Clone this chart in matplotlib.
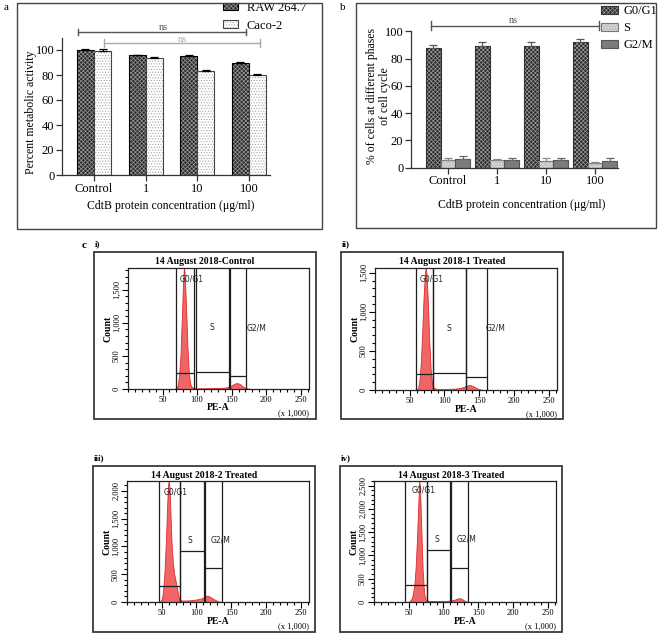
import matplotlib.pyplot as plt
import numpy as np
from matplotlib.patches import Patch, Rectangle
from matplotlib.ticker import FuncFormatter, MultipleLocator

plt.rcParams['font.family'] = ['Liberation Serif', 'DejaVu Serif']
plt.rcParams['hatch.linewidth'] = 0.5

# ---------------- data: panel a (metabolic activity) ----------------
conc_labels = ['Control', '1', '10', '100']
raw_mean = [100.0, 96.0, 95.2, 89.9]
raw_err = [0.5, 0.3, 0.4, 0.5]
caco_mean = [99.5, 93.9, 83.5, 79.7]
caco_err = [1.2, 0.8, 0.8, 0.9]

# ---------------- data: panel b (cell cycle phases) ----------------
g1_mean = [88.0, 89.5, 89.5, 92.0]
g1_err = [2.3, 2.4, 2.3, 2.5]
s_mean = [5.6, 5.6, 4.9, 3.2]
s_err = [1.2, 0.5, 1.9, 1.2]
g2_mean = [6.1, 5.6, 5.6, 4.9]
g2_err = [2.4, 1.7, 1.2, 1.9]

# ---------------- data: panel c (PE-A histograms, x in thousands) ----------------
hx_i = [66, 70, 72, 74, 76, 78, 80, 81, 82, 84, 86, 88, 90, 92, 95, 100, 110, 120,
        130, 140, 145, 150, 154, 158, 162, 166, 170, 175, 180]
hc_i = [0, 10, 60, 200, 520, 1100, 1700, 1830, 1750, 1250, 650, 250, 80, 30, 15, 10,
        12, 12, 15, 20, 30, 55, 80, 90, 75, 40, 15, 5, 0]

hx_ii = [58, 62, 64, 66, 68, 70, 72, 73, 74, 76, 78, 80, 82, 84, 88, 95, 105, 115,
         122, 128, 132, 135, 138, 142, 146, 150, 155]
hc_ii = [0, 20, 120, 350, 750, 1200, 1500, 1560, 1500, 1150, 650, 280, 90, 30, 15,
         12, 14, 18, 25, 40, 55, 65, 60, 45, 25, 10, 0]

hx_iii = [46, 50, 52, 54, 56, 58, 59, 60, 61, 62, 64, 66, 68, 70, 72, 74, 76, 80,
          90, 100, 106, 110, 113, 116, 120, 125, 130, 135]
hc_iii = [0, 40, 200, 550, 1100, 1800, 2100, 2180, 2100, 1800, 1100, 700, 500, 380,
          250, 100, 40, 25, 30, 45, 60, 80, 110, 115, 90, 50, 20, 0]

hx_iv = [48, 52, 55, 58, 60, 62, 64, 65, 66, 67, 68, 70, 72, 74, 78, 85, 95, 105,
         112, 117, 120, 123, 126, 130, 135]
hc_iv = [0, 20, 100, 350, 750, 1400, 2200, 2600, 2500, 2100, 1600, 700, 200, 60, 25,
         20, 20, 25, 35, 55, 75, 80, 70, 30, 0]

gate_names = ['G0/G1', 'S', 'G2/M']
# (left, right, marker level) for each gate
gates_i = [(69, 96, 242), (98.5, 146.5, 258), (148, 170.5, 197)]
gates_ii = [(59, 83, 205), (83.5, 131.5, 218), (131.5, 161, 170)]
gates_iii = [(45.5, 75.6, 294), (76.5, 110.4, 925), (111.9, 136.5, 607)]
gates_iv = [(45, 75.6, 370), (76.6, 109.5, 1108), (111, 135.6, 724)]

c_titles = ['14 August 2018-Control', '14 August 2018-1 Treated',
            '14 August 2018-2 Treated', '14 August 2018-3 Treated']
c_tags = ['i)', 'ii)', 'iii)', 'iv)']
c_ymax = [1830, 1560, 2180, 2600]
c_yticks = [[0, 500, 1000, 1500], [0, 500, 1000, 1500],
            [0, 500, 1000, 1500, 2000], [0, 500, 1000, 1500, 2000, 2500]]
c_xticks = [50, 100, 150, 200, 250]

W, H = 658, 633

def px_box(x0, y0, x1, y1):
  return [x0/W, 1 - y1/H, (x1 - x0)/W, (y1 - y0)/H]

def fx(x):
  return x/W

def fy(y):
  return 1 - y/H

def frame(fig, x0, y0, x1, y1, lw=1.0, color='#444444'):
  fig.add_artist(Rectangle((fx(x0), fy(y1)), (x1 - x0)/W, (y1 - y0)/H,
                           transform=fig.transFigure, fill=False,
                           edgecolor=color, linewidth=lw))

def hbar(ax, x, h, w, face, hatch, hcolor, edge):
  """ bar with its own hatch colour, then outline on top """
  ax.bar(x, h, w, color=face, hatch=hatch, edgecolor=hcolor, linewidth=0)
  ax.bar(x, h, w, fill=False, edgecolor=edge, linewidth=0.8)

def handle(face, hatch, hcolor, edge):
  return (Patch(facecolor=face, hatch=hatch, edgecolor=hcolor, linewidth=0),
          Patch(fill=False, edgecolor=edge, linewidth=0.8))

def bracket(ax, x0, x1, y, dy, color, label, ly):
  ax.plot([x0, x1], [y, y], color=color, lw=1.0, clip_on=False)
  ax.plot([x0, x0], [y - dy, y + dy], color=color, lw=1.0, clip_on=False)
  ax.plot([x1, x1], [y - dy, y + dy], color=color, lw=1.0, clip_on=False)
  ax.text(label, ly, 'ns', ha='center', va='bottom', fontsize=7.5, color=color,
          clip_on=False)

def style_bar_axes(ax):
  for s in ['top', 'right']:
    ax.spines[s].set_visible(False)
  for s in ['left', 'bottom']:
    ax.spines[s].set_color('#333333')
    ax.spines[s].set_linewidth(0.9)
  ax.tick_params(length=4, width=0.9, color='#333333', labelsize=9, pad=1.5)

raw_style = dict(face='#2a2a2a', hatch='xxxxxxxx', hcolor='#9a9a9a', edge='black')
caco_style = dict(face='white', hatch='......', hcolor='#a5a5a5', edge='#444444')
g1_style = dict(face='#2a2a2a', hatch='xxxxxxxx', hcolor='#9a9a9a', edge='#333333')
s_style = dict(face='#c4c4c4', hatch='......', hcolor='#f0f0f0', edge='#777777')
g2_style = dict(face='#7c7c7c', hatch='', hcolor='#7c7c7c', edge='#555555')

fig = plt.figure(figsize=(W/100, H/100), dpi=100)

#--------------------------------------------------------------------------------
# panel a
frame(fig, 17, 3, 322, 229)
fig.text(fx(6), fy(7), 'a', fontsize=8, ha='center', va='center')

ax = fig.add_axes(px_box(62, 37.5, 270, 175))
idx = np.arange(len(conc_labels))
w = 0.33
hbar(ax, idx - w/2, raw_mean, w, **raw_style)
hbar(ax, idx + w/2, caco_mean, w, **caco_style)
ax.errorbar(idx - w/2, raw_mean, yerr=[np.zeros(len(idx)), raw_err], fmt='none',
            ecolor='black', elinewidth=0.8, capsize=3, capthick=0.9)
ax.errorbar(idx + w/2, caco_mean, yerr=[np.zeros(len(idx)), caco_err], fmt='none',
            ecolor='black', elinewidth=0.8, capsize=3, capthick=0.9)
ax.set_xlim(-0.62, 3.41)
ax.set_ylim(0, 110)
ax.set_yticks(range(0, 101, 20))
ax.set_xticks(idx)
ax.set_xticklabels(conc_labels)
style_bar_axes(ax)

bracket(ax, -0.31, 2.94, 114.4, 2.6, '#555555', 1.34, 114.6)
bracket(ax, 0.19, 3.21, 105.6, 3.2, '#aaaaaa', 1.72, 104.8)

ax.legend(handles=[handle(**raw_style), handle(**caco_style)],
          labels=['RAW 264.7', 'Caco-2'], loc='upper left',
          bbox_to_anchor=(fx(223), fy(2)), bbox_transform=fig.transFigure,
          frameon=False, fontsize=9, handlelength=1.2, handleheight=0.55,
          handletextpad=0.7, labelspacing=0.45, borderpad=0, borderaxespad=0)

fig.text(fx(31), fy(112), 'Percent metabolic activity', rotation=90,
         ha='center', va='center', fontsize=8.5)
fig.text(fx(171), fy(206), 'CdtB protein concentration (\u03bcg/ml)',
         ha='center', va='center', fontsize=8.5)

#--------------------------------------------------------------------------------
# panel b
frame(fig, 356, 3, 656, 228)
fig.text(fx(343), fy(7), 'b', fontsize=8, ha='center', va='center')

ax = fig.add_axes(px_box(411, 30.6, 618, 167.7))
w = 0.3
hbar(ax, idx - w, g1_mean, w, **g1_style)
hbar(ax, idx, s_mean, w, **s_style)
hbar(ax, idx + w, g2_mean, w, **g2_style)
for off, m, e, c in [(-w, g1_mean, g1_err, '#555555'), (0, s_mean, s_err, '#888888'),
                     (w, g2_mean, g2_err, '#666666')]:
  ax.errorbar(idx + off, m, yerr=[np.zeros(len(idx)), e], fmt='none', ecolor=c,
              elinewidth=0.8, capsize=3, capthick=0.9)
ax.set_xlim(-0.755, 3.47)
ax.set_ylim(0, 100.5)
ax.set_yticks(range(0, 101, 20))
ax.set_xticks(idx)
ax.set_xticklabels(conc_labels)
style_bar_axes(ax)
bracket(ax, -0.35, 3.08, 104.2, 3.0, '#555555', 1.33, 104.4)

ax.legend(handles=[handle(**g1_style), handle(**s_style), handle(**g2_style)],
          labels=['G0/G1', 'S', 'G2/M'], loc='upper left',
          bbox_to_anchor=(fx(601), fy(5)), bbox_transform=fig.transFigure,
          frameon=False, fontsize=9, handlelength=1.36, handleheight=0.6,
          handletextpad=0.4, labelspacing=0.42, borderpad=0, borderaxespad=0)

fig.text(fx(372), fy(96), '% of cells at different phases', rotation=90,
         ha='center', va='center', fontsize=8.5)
fig.text(fx(385), fy(96), 'of cell cycle', rotation=90,
         ha='center', va='center', fontsize=8.5)
fig.text(fx(522), fy(205), 'CdtB protein concentration (\u03bcg/ml)',
         ha='center', va='center', fontsize=8.5)

#--------------------------------------------------------------------------------
# panel c
fig.text(fx(84), fy(245), 'c', fontsize=8, fontweight='bold', ha='center', va='center')

c_layout = [((128, 268, 309, 389), (94, 252, 316, 419)),
            ((375, 268, 557, 390), (341, 252, 563, 419)),
            ((127, 481, 309, 602), (93, 466, 315, 632)),
            ((374, 481, 556, 602), (340, 466, 562, 632))]
c_hist = [(hx_i, hc_i), (hx_ii, hc_ii), (hx_iii, hc_iii), (hx_iv, hc_iv)]
c_gates = [gates_i, gates_ii, gates_iii, gates_iv]
# gate label positions (data units)
c_glab = [[(92, 1667), (121, 924), (186.5, 924)],
          [(81, 1419), (106, 791), (174, 791)],
          [(70.7, 1987), (91, 1117), (134.5, 1117)],
          [(70.8, 2398), (90, 1348), (133, 1348)]]

thousands = FuncFormatter(lambda v, p: '{:,}'.format(int(v)))

for n in range(4):
  (ax0, ay0, ax1, ay1), (bx0, by0, bx1, by1) = c_layout[n]
  frame(fig, bx0, by0, bx1, by1, lw=1.3, color='#3a3a3a')
  fig.text(fx(bx0 + 1), fy(by0 - 8), c_tags[n], fontsize=6.5, fontweight='bold',
           ha='left', va='center')
  fig.text(fx((bx0 + bx1)/2), fy(ay0 - 6), c_titles[n], fontsize=7,
           fontweight='bold', ha='center', va='center')

  ax = fig.add_axes(px_box(ax0, ay0, ax1, ay1))
  hx, hc = c_hist[n]
  ax.fill_between(hx, hc, color='#f06666', edgecolor='#e02a2a', linewidth=0.6)

  ymax = c_ymax[n]
  for (g0, g1, lev), name, (lx, ly) in zip(c_gates[n], gate_names, c_glab[n]):
    ax.vlines([g0, g1], 0, ymax, color='#1e1e1e', linewidth=0.9)
    ax.hlines(lev, g0, g1, color='#1e1e1e', linewidth=0.9)
    ax.text(lx, ly, name, family='DejaVu Sans', fontsize=5.5, ha='center',
            va='center', color='#222222')

  ax.set_xlim(0, 262)
  ax.set_ylim(0, ymax)
  ax.set_xticks(c_xticks)
  ax.xaxis.set_minor_locator(MultipleLocator(10))
  ax.set_yticks(c_yticks[n])
  ax.yaxis.set_minor_locator(MultipleLocator(100))
  ax.yaxis.set_major_formatter(thousands)
  ax.tick_params(which='major', length=4, width=0.8, labelsize=6, pad=1)
  ax.tick_params(which='minor', length=2.5, width=0.8)
  for lbl in ax.get_yticklabels():
    lbl.set_rotation(90)
    lbl.set_va('center')
  for s in ax.spines.values():
    s.set_linewidth(0.9)
    s.set_color('#222222')

  fig.text(fx(ax0 - 20), fy((ay0 + ay1)/2), 'Count', rotation=90, fontsize=7,
           fontweight='bold', ha='center', va='center')
  fig.text(fx((ax0 + ax1)/2), fy(ay1 + 19), 'PE-A', fontsize=7,
           fontweight='bold', ha='center', va='center')
  fig.text(fx(ax1), fy(ay1 + 24), '(x 1,000)', fontsize=6, ha='right',
           va='center')

fig.savefig('out.png', dpi=100)
